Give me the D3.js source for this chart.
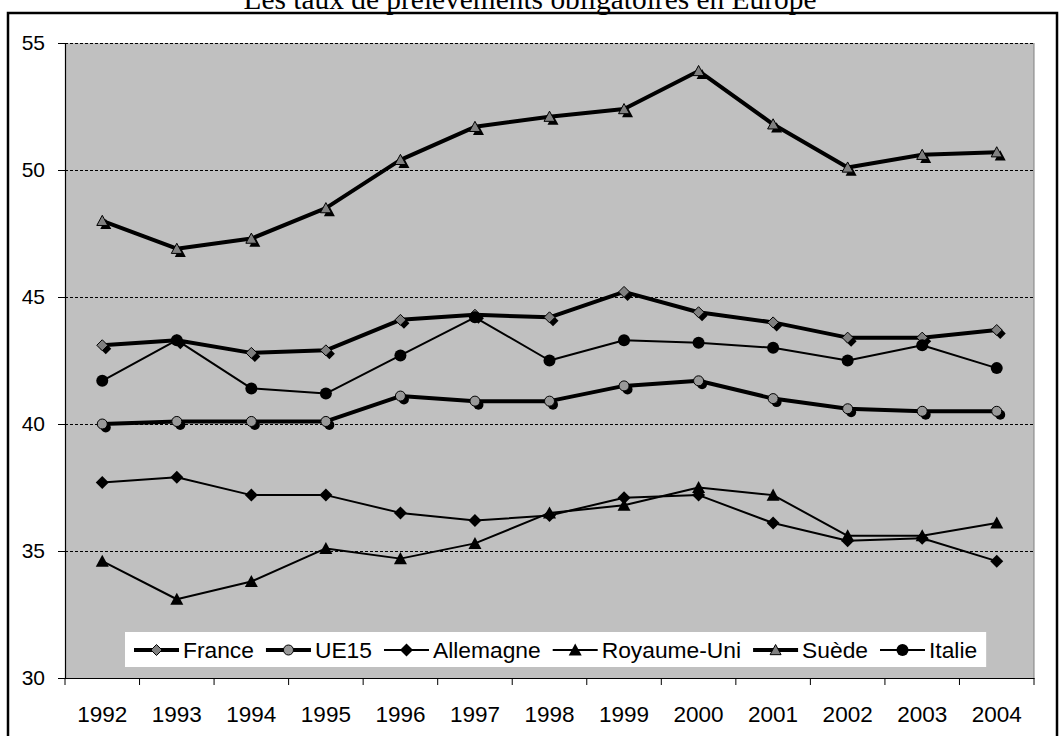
<!DOCTYPE html>
<html><head><meta charset="utf-8">
<script src="https://cdn.jsdelivr.net/npm/d3@7"></script>
<style>body{margin:0;background:#fff}svg{display:block}</style>
</head><body><svg id="c" width="1061" height="736"></svg>
<script>
const years = [1992,1993,1994,1995,1996,1997,1998,1999,2000,2001,2002,2003,2004];
const france      = [43.1,43.3,42.8,42.9,44.1,44.3,44.2,45.2,44.4,44.0,43.4,43.4,43.7];
const ue15        = [40.0,40.1,40.1,40.1,41.1,40.9,40.9,41.5,41.7,41.0,40.6,40.5,40.5];
const allemagne   = [37.7,37.9,37.2,37.2,36.5,36.2,36.4,37.1,37.2,36.1,35.4,35.5,34.6];
const royaumeUni  = [34.6,33.1,33.8,35.1,34.7,35.3,36.5,36.8,37.5,37.2,35.6,35.6,36.1];
const suede       = [48.0,46.9,47.3,48.5,50.4,51.7,52.1,52.4,53.9,51.8,50.1,50.6,50.7];
const italie      = [41.7,43.3,41.4,41.2,42.7,44.2,42.5,43.3,43.2,43.0,42.5,43.1,42.2];
const seriesNames = ["France","UE15","Allemagne","Royaume-Uni","Suède","Italie"];
const yTicks = [30,35,40,45,50,55];
const title = "Les taux de prélèvements obligatoires en Europe";

const seriesValues = [france, ue15, allemagne, royaumeUni, suede, italie];
const styles = [
  {thick:true,  shape:"diamond",  size:5.5, fill:"#808080", shadow:true},
  {thick:true,  shape:"circle",   size:5,   fill:"#999999", shadow:true},
  {thick:false, shape:"diamond",  size:6.5, fill:"#000",    shadow:false},
  {thick:false, shape:"triangle", size:6.5, fill:"#000",    shadow:false},
  {thick:true,  shape:"triangle", size:5.5, fill:"#808080", shadow:true},
  {thick:false, shape:"circle",   size:6,   fill:"#000",    shadow:false}
];

const svg = d3.select("#c");
const font = "Arial, 'Liberation Sans', Helvetica, sans-serif";

// outer frame
svg.append("rect").attr("x",8).attr("y",13).attr("width",1049).attr("height",760)
  .attr("fill","#fff").attr("stroke","#000").attr("stroke-width",2.5);

// title
svg.append("text").attr("x",530).attr("y",9).attr("text-anchor","middle")
  .attr("font-family","'Liberation Serif','Times New Roman',serif").attr("font-size",29.4)
  .text(title);

const x = d3.scaleBand().domain(years).range([65,1034]).padding(0);
const y = d3.scaleLinear().domain([30,55]).range([678,43]);
const cx = d => x(d) + x.bandwidth()/2;

// plot area
svg.append("rect").attr("x",65).attr("y",43).attr("width",1034-65).attr("height",678-43)
  .attr("fill","#C0C0C0");
svg.append("line").attr("x1",1034).attr("x2",1034).attr("y1",43).attr("y2",678)
  .attr("stroke","#808080").attr("stroke-width",1);

// gridlines
svg.append("g").selectAll("line").data(yTicks.filter(t=>t>30)).join("line")
  .attr("x1",65).attr("x2",1034).attr("y1",d=>y(d)+0.5).attr("y2",d=>y(d)+0.5)
  .attr("stroke","#000").attr("stroke-width",1).attr("stroke-dasharray","3,2");

// y axis
const ya = svg.append("g").attr("transform","translate(65,0)")
  .call(d3.axisLeft(y).tickValues(yTicks).tickSize(7).tickPadding(13));
ya.select(".domain").attr("stroke","#000").attr("stroke-width",1.2);
ya.selectAll(".tick line").attr("stroke","#000");
ya.selectAll("text").attr("font-family",font).attr("font-size",21).attr("fill","#000");

// x axis
const xa = svg.append("g").attr("transform","translate(0,678)")
  .call(d3.axisBottom(x).tickSize(0).tickSizeOuter(0));
xa.select(".domain").attr("stroke","#000").attr("stroke-width",1.2);
xa.selectAll("text").attr("y",28).attr("font-family",font).attr("font-size",22.5).attr("fill","#000");
const bounds = years.map(d=>x(d)).concat([x.range()[1]]);
svg.append("g").selectAll("line").data(bounds).join("line")
  .attr("x1",d=>d).attr("x2",d=>d).attr("y1",678).attr("y2",685)
  .attr("stroke","#000").attr("stroke-width",1);

function markerPath(shape, s){
  if(shape==="diamond") return `M0,${-s}L${s},0L0,${s}L${-s},0Z`;
  if(shape==="triangle") return `M0,${-s}L${s},${s*0.85}L${-s},${s*0.85}Z`;
  return d3.symbol().type(d3.symbolCircle).size(Math.PI*s*s)();
}
function drawMarker(g, st, px, py, withShadow){
  if(withShadow && st.shadow){
    g.append("path").attr("d",markerPath(st.shape, st.size))
      .attr("transform",`translate(${px+3.5},${py+3.5})`).attr("fill","#000");
  }
  g.append("path").attr("d",markerPath(st.shape, st.size))
    .attr("transform",`translate(${px},${py})`)
    .attr("fill",st.fill).attr("stroke","#000").attr("stroke-width",st.fill==="#000"?0:1);
}

const line = d3.line().x((d,i)=>cx(years[i])).y(d=>y(d));
seriesValues.forEach((vals,si)=>{
  const st = styles[si];
  const g = svg.append("g");
  g.append("path").datum(vals).attr("d",line).attr("fill","none")
    .attr("stroke","#000").attr("stroke-width",st.thick?4:2).attr("stroke-linejoin","round");
  vals.forEach((v,i)=>drawMarker(g, st, cx(years[i]), y(v), true));
});

// legend
const lg = svg.append("g");
const lgRect = lg.append("rect").attr("x",125).attr("y",632).attr("width",861).attr("height",35).attr("fill","#fff");
let lx = 134;
seriesNames.forEach((name,si)=>{
  const st = styles[si];
  const ly = 650;
  lg.append("line").attr("x1",lx).attr("x2",lx+45).attr("y1",ly).attr("y2",ly)
    .attr("stroke","#000").attr("stroke-width",st.thick?4:2);
  drawMarker(lg, st, lx+22.5, ly, false);
  const t = lg.append("text").attr("x",lx+49).attr("y",ly+8).attr("font-family",font)
    .attr("font-size",22.8).attr("fill","#000").text(name);
  lx = lx + 49 + t.node().getComputedTextLength() + 12;
});
lgRect.attr("width", lx - 12 + 9 - 125);
</script></body></html>
